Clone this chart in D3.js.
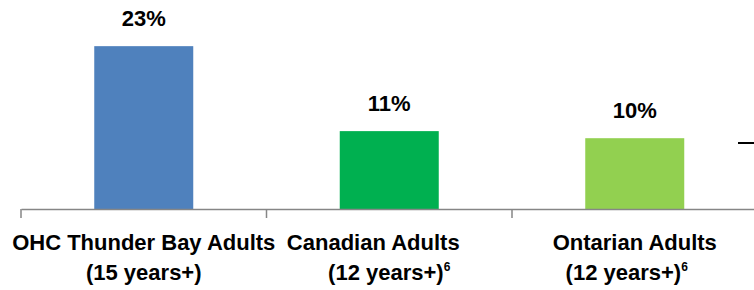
<!DOCTYPE html>
<html>
<head>
<meta charset="utf-8">
<script src="https://cdn.jsdelivr.net/npm/d3@7"></script>
<style>
  body { margin: 0; background: #fff; }
  text { font-family: "Liberation Sans", Arial, sans-serif; font-weight: bold; fill: #000; }
</style>
</head>
<body>
<div id="chart"></div>
<script>
// data
const categories = ['OHC Thunder Bay Adults', 'Canadian Adults', 'Ontarian Adults', 'extra'];
const labelLines = [
    ['OHC Thunder Bay Adults', '(15 years+)'],
    ['Canadian Adults', '(12 years+)'],
    ['Ontarian Adults', '(12 years+)']
];
const footnotes = ['', '6', '6'];
const values = [23, 11, 10];
const colors = ['#4f81bd', '#00b050', '#92d050'];

var width = 754
var height = 290

var svg = d3.select('#chart')
    .append('svg')
    .attr('width', width)
    .attr('height', height);

// 4 bands, the last one is cut off at the right edge
var x = d3.scaleBand()
    .domain(categories)
    .range([21, 1003])
    .paddingInner(0)
    .paddingOuter(0);

var y = d3.scaleLinear()
    .domain([0, 25])
    .range([209, 32]);

var barW = 99;

svg.selectAll('rect.bar')
    .data(values)
    .enter()
    .append('rect')
    .attr('class', 'bar')
    .attr('x', function(d, i){ return x(categories[i]) + x.bandwidth() / 2 - barW / 2 })
    .attr('y', function(d){ return y(d) })
    .attr('width', barW)
    .attr('height', function(d){ return y(0) - y(d) })
    .attr('fill', function(d, i){ return colors[i] });

// value labels
svg.selectAll('text.val')
    .data(values)
    .enter()
    .append('text')
    .attr('class', 'val')
    .attr('x', function(d, i){ return x(categories[i]) + x.bandwidth() / 2 })
    .attr('y', function(d){ return y(d) - 20 })
    .attr('text-anchor', 'middle')
    .style('font-size', '22px')
    .text(function(d){ return d + '%' });

// x axis with ticks between categories
var axis = d3.axisBottom(x).tickSize(0).tickFormat('');
var gx = svg.append('g')
    .attr('transform', 'translate(0,' + y(0) + ')')
    .call(axis);
gx.select('.domain').attr('stroke', '#868686').attr('stroke-width', 1.5);

gx.selectAll('line.sep')
    .data(categories)
    .enter()
    .append('line')
    .attr('class', 'sep')
    .attr('x1', function(d){ return x(d) })
    .attr('x2', function(d){ return x(d) })
    .attr('y1', 0)
    .attr('y2', 9)
    .attr('stroke', '#868686')
    .attr('stroke-width', 1.5);

// category labels, line offsets follow the original's ragged wrapping
var lineShift = [[0, 0], [-16, 0], [0, -8]];

var lab = svg.selectAll('g.cat')
    .data(labelLines)
    .enter()
    .append('g')
    .attr('class', 'cat');

lab.each(function(lines, i){
    var g = d3.select(this);
    var cx = x(categories[i]) + x.bandwidth() / 2;
    lines.forEach(function(line, j){
        var t = g.append('text')
            .attr('x', cx + lineShift[i][j])
            .attr('y', 250 + j * 30)
            .attr('text-anchor', 'middle')
            .style('font-size', '22px')
            .text(line);
        if (j == 1 && footnotes[i]) {
            t.append('tspan')
                .attr('dy', -9)
                .style('font-size', '12px')
                .text(footnotes[i]);
        }
    });
});

// piece of something cut off at the right edge
svg.append('line')
    .attr('x1', 738)
    .attr('x2', 754)
    .attr('y1', 143)
    .attr('y2', 143)
    .attr('stroke', '#000')
    .attr('stroke-width', 2);
</script>
</body>
</html>
